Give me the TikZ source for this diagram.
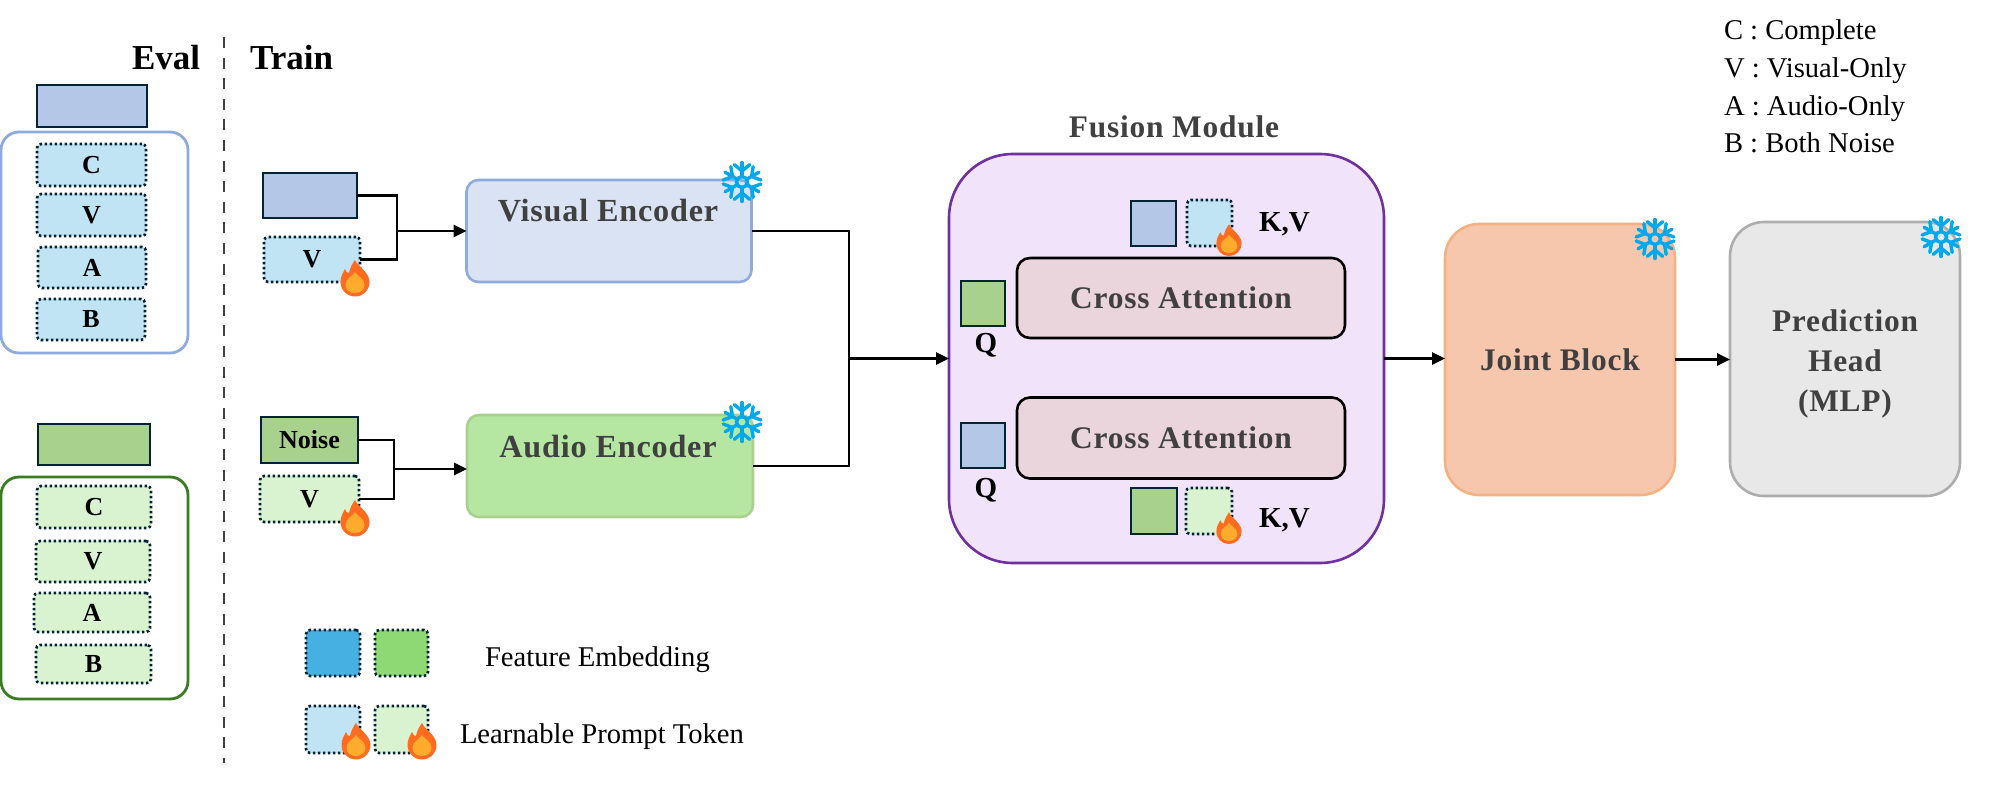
\documentclass[tikz,border=0pt]{standalone}
\usepackage{fontspec}
\setmainfont{Liberation Serif}
\newfontfamily\spacedfont[LetterSpace=2.5]{Liberation Serif}
\usetikzlibrary{arrows.meta}
\definecolor{inkdark}{HTML}{042433}
\definecolor{inkgrey}{HTML}{404040}
\definecolor{visfill}{HTML}{B4C7E7}
\definecolor{vislight}{HTML}{C1E4F5}
\definecolor{visline}{HTML}{8FAADC}
\definecolor{visenc}{HTML}{DAE3F3}
\definecolor{visembed}{HTML}{45B0E1}
\definecolor{audfill}{HTML}{A9D18E}
\definecolor{audlight}{HTML}{D9F2D0}
\definecolor{audline}{HTML}{3A7C22}
\definecolor{audenc}{HTML}{B5E6A2}
\definecolor{audembed}{HTML}{8ED973}
\definecolor{fusfill}{HTML}{F1E3FA}
\definecolor{fusline}{HTML}{7030A0}
\definecolor{crossfill}{HTML}{EBD5DC}
\definecolor{jointfill}{HTML}{F6C6AD}
\definecolor{jointline}{HTML}{F4B183}
\definecolor{predfill}{HTML}{E8E8E8}
\definecolor{predline}{HTML}{ADADAD}
\definecolor{flameout}{HTML}{FF6B1F}
\definecolor{flamein}{HTML}{FFAB2E}
\definecolor{snowblue}{HTML}{00A8EC}
\tikzset{
  every node/.style={inner sep=0pt,outer sep=0pt},
  sz/.style 2 args={minimum width=#1*0.5pt,minimum height=#2*0.5pt},
  feat/.style={draw=inkdark,line width=1.45pt},
  prompt/.style={draw=inkdark,line width=1.3pt,dash pattern=on 1.25pt off 1.25pt,rounded corners=2pt},
  wire/.style={line width=1.4pt,black},
  arrow/.style={wire,-{Triangle[length=6.5pt,width=6pt]}},
  boxlabel/.style={font=\fontsize{13}{15}\selectfont\bfseries},
  kvlabel/.style={font=\fontsize{14.5}{16}\selectfont\bfseries},
  head/.style={font=\fontsize{17.5}{20}\selectfont\bfseries},
  title/.style={font=\fontsize{15.7}{20}\spacedfont\selectfont\bfseries,text=inkgrey},
  enctitle/.style={font=\fontsize{16.1}{20}\spacedfont\selectfont\bfseries,text=inkgrey,anchor=base},
  legend/.style={font=\fontsize{14.3}{17}\selectfont,anchor=base west},
  flame/.pic={
    \fill[flameout] (0,-18) .. controls (3,-11) and (14.5,-6) .. (14.5,4) .. controls (14.5,12) and (8,18.5) .. (0,18.5)
      .. controls (-8,18.5) and (-14.5,12) .. (-14.5,4) .. controls (-14.5,-2) and (-12,-5) .. (-10,-9)
      .. controls (-9,-6) and (-8,-5) .. (-6,-5) .. controls (-5,-10) and (-3,-14) .. (0,-18) -- cycle;
    \fill[flamein] (0,-6) .. controls (2,-2) and (9.5,0) .. (9.5,7) .. controls (9.5,12) and (5,15) .. (0,15)
      .. controls (-5,15) and (-9.5,12) .. (-9.5,7) .. controls (-9.5,0) and (-2,-2) .. (0,-6) -- cycle;
  },
  snow/.pic={
    \draw[snowblue,line width=1.7pt] (0,0) circle (5.5);
    \foreach \a in {30,90,...,330} {
      \draw[snowblue,line width=1.7pt,line cap=round] (\a:5.5) -- (\a:19.5);
      \draw[snowblue,line width=1.7pt,line cap=round] (\a+24:19) -- (\a:11) -- (\a-24:19);
    }
  },
}
\begin{document}
\begin{tikzpicture}[x=0.5pt,y=-0.5pt]
  \useasboundingbox (0,0) rectangle (1993,786);
  \coordinate (splittop) at (224,37);
  \coordinate (splitbot) at (224,763);
  \draw[inkgrey,line width=1.4pt,dash pattern=on 5.5pt off 4.8pt] (splittop) -- (splitbot);
  \node[head,anchor=base west] (evalhead) at (132,70) {Eval};
  \node[head,anchor=base west] (trainhead) at (250,70) {Train};

  \node[feat,fill=visfill,sz={110}{42}] (evisbar) at (92,106) {};
  \node[draw=visline,line width=1.4pt,rounded corners=9pt,sz={187}{221}] (evisgroup) at (94.5,242.5) {};
  \node[prompt,fill=vislight,sz={109}{42},boxlabel] (evisC) at (91.5,165) {C};
  \node[prompt,fill=vislight,sz={109}{42},boxlabel] (evisV) at (91.5,215) {V};
  \node[prompt,fill=vislight,sz={108}{41},boxlabel] (evisA) at (92,267.5) {A};
  \node[prompt,fill=vislight,sz={108}{41},boxlabel] (evisB) at (91,319.5) {B};

  \node[feat,fill=audfill,sz={112}{41}] (eaudbar) at (94,444.5) {};
  \node[draw=audline,line width=1.4pt,rounded corners=9pt,sz={187}{222}] (eaudgroup) at (94.5,588) {};
  \node[prompt,fill=audlight,sz={114}{42},boxlabel] (eaudC) at (94,507) {C};
  \node[prompt,fill=audlight,sz={114}{41},boxlabel] (eaudV) at (93,561.5) {V};
  \node[prompt,fill=audlight,sz={116}{39},boxlabel] (eaudA) at (92,612.5) {A};
  \node[prompt,fill=audlight,sz={115}{38},boxlabel] (eaudB) at (93.5,664) {B};

  \node[feat,fill=visfill,sz={94}{45}] (visfeat) at (310,195.5) {};
  \node[prompt,fill=vislight,sz={96}{45},boxlabel] (visprompt) at (312,259.5) {V};
  \node[feat,fill=audfill,sz={97}{46},boxlabel] (audnoise) at (309.5,440) {Noise};
  \node[prompt,fill=audlight,sz={99}{46},boxlabel] (audprompt) at (309.5,499) {V};
  \node[draw=visline,fill=visenc,line width=1.3pt,rounded corners=6pt,sz={285}{102}] (visencoder) at (609,231) {};
  \node[draw=audfill,fill=audenc,line width=1.3pt,rounded corners=6pt,sz={286}{102}] (audencoder) at (610,466) {};
  \node[enctitle] (vistitle) at (608,222) {Visual Encoder};
  \node[enctitle] (audtitle) at (608,458) {Audio Encoder};

  \node[draw=fusline,fill=fusfill,line width=1.3pt,rounded corners=32pt,sz={435}{409}] (fusion) at (1166.5,358.5) {};
  \node[title,anchor=base] (fustitle) at (1174,138) {Fusion Module};
  \node[draw=black,fill=crossfill,line width=1.3pt,rounded corners=6.5pt,sz={328}{80},title] (crossup) at (1181,298) {Cross Attention};
  \node[draw=black,fill=crossfill,line width=1.3pt,rounded corners=6.5pt,sz={328}{81},title] (crossdown) at (1181,438) {Cross Attention};
  \node[feat,fill=visfill,sz={45}{45}] (kvisfeat) at (1153.5,223.5) {};
  \node[prompt,fill=vislight,sz={45}{46}] (kvisprompt) at (1209.5,223) {};
  \node[feat,fill=audfill,sz={44}{45}] (qaud) at (983,303.5) {};
  \node[feat,fill=visfill,sz={44}{45}] (qvis) at (983,445.5) {};
  \node[feat,fill=audfill,sz={46}{46}] (kaudfeat) at (1154,511) {};
  \node[prompt,fill=audlight,sz={46}{46}] (kaudprompt) at (1209,511) {};
  \node[kvlabel,anchor=base] (qaudlabel) at (986,352) {Q};
  \node[kvlabel,anchor=base] (qvislabel) at (986,497) {Q};
  \node[kvlabel,anchor=base west] (kvuplabel) at (1259,232) {K,V};
  \node[kvlabel,anchor=base west] (kvdownlabel) at (1259,527) {K,V};

  \node[draw=jointline,fill=jointfill,line width=1.3pt,rounded corners=17pt,sz={230}{271},title] (joint) at (1560,359.5) {Joint Block};
  \node[draw=predline,fill=predfill,line width=1.3pt,rounded corners=17pt,sz={230}{274}] (predhead) at (1845,359) {};
  \node[title,align=center] (predtitle) at (1845,364) {Prediction\\Head\\(MLP)};

  \coordinate (visjoin) at (397,231);
  \coordinate (audjoin) at (394,469);
  \coordinate (fusjoin) at (849,358.5);
  \draw[wire] (visfeat.east) -| (visjoin);
  \draw[wire] (visprompt.east) -| (visjoin);
  \draw[arrow] (visjoin) -- (visencoder.west);
  \draw[wire] (audnoise.east) -| (audjoin);
  \draw[wire] (audprompt.east) -| (audjoin);
  \draw[arrow] (audjoin) -- (audjoin -| audencoder.west);
  \draw[wire] (visencoder.east) -| (fusjoin);
  \draw[wire] (audencoder.east) -| (fusjoin);
  \draw[arrow] (fusjoin) -- (fusion.west);
  \draw[arrow] (fusion.east) -- (fusion.east -| joint.west);
  \draw[arrow] (joint.east) -- (joint.east -| predhead.west);

  \pic at (355,278) {flame};
  \pic at (355,518) {flame};
  \pic[scale=0.87] at (1229,240) {flame};
  \pic[scale=0.87] at (1229,528) {flame};
  \pic at (742,182) {snow};
  \pic at (742,422) {snow};
  \pic at (1655,239) {snow};
  \pic at (1941,237) {snow};

  \node[prompt,fill=visembed,sz={54}{46}] (legvisfeat) at (333,653) {};
  \node[prompt,fill=audembed,sz={53}{46}] (legaudfeat) at (401.5,653) {};
  \node[prompt,fill=vislight,sz={54}{47}] (legvisprompt) at (333,729.5) {};
  \node[prompt,fill=audlight,sz={53}{47}] (legaudprompt) at (401.5,729.5) {};
  \pic at (356,741) {flame};
  \pic at (422,741) {flame};
  \node[legend] (legfeat) at (485,666) {Feature Embedding};
  \node[legend] (legtoken) at (460,743) {Learnable Prompt Token};

  \node[legend] (keyC) at (1724,40) {C : Complete};
  \node[legend] (keyV) at (1724,78) {V : Visual-Only};
  \node[legend] (keyA) at (1724,116) {A : Audio-Only};
  \node[legend] (keyB) at (1724,153) {B : Both Noise};
\end{tikzpicture}
\end{document}
